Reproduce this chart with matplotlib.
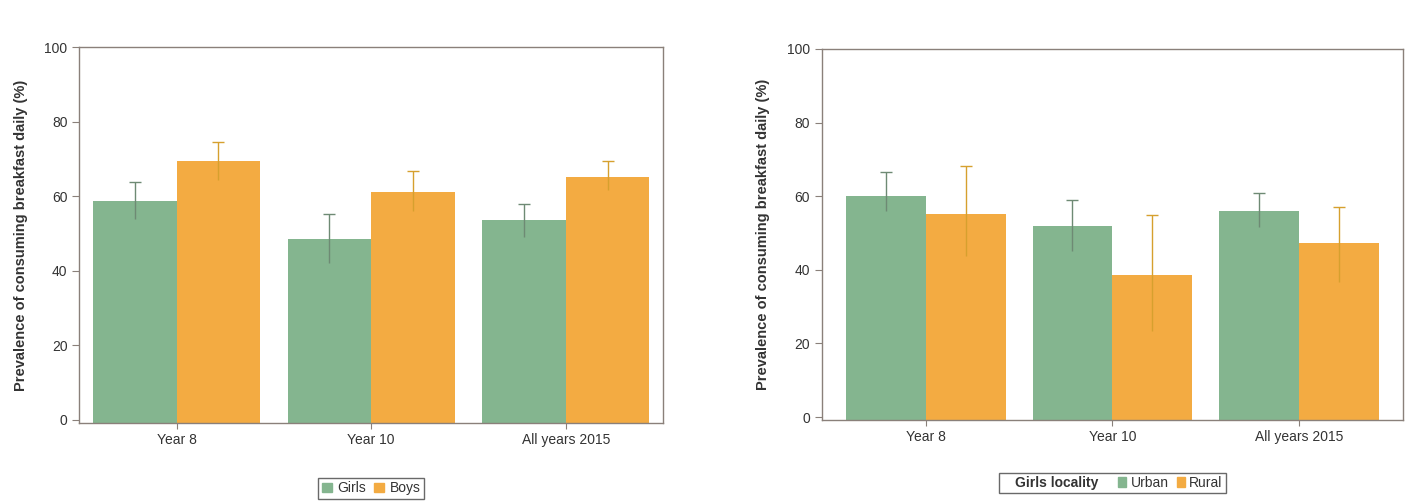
import numpy as np
import matplotlib.pyplot as plt
from matplotlib.patches import Patch

plt.rcParams['font.family'] = ['Liberation Sans', 'DejaVu Sans']

categories = ["Year 8", "Year 10", "All years 2015"]

# left panel: girls vs boys
girls = [58.7, 48.4, 53.6]
girls_lo = [53.8, 42.0, 49.0]
girls_hi = [63.8, 55.3, 58.0]
boys = [69.4, 61.1, 65.2]
boys_lo = [64.5, 56.0, 61.8]
boys_hi = [74.7, 66.9, 69.6]

# right panel: girls by locality
urban = [60.0, 51.9, 56.0]
urban_lo = [56.0, 45.1, 51.7]
urban_hi = [66.6, 58.9, 60.8]
rural = [55.3, 38.6, 47.2]
rural_lo = [43.8, 23.5, 36.7]
rural_hi = [68.1, 54.8, 57.2]

GREEN = "#84b58f"
ORANGE = "#f3ab42"
GREEN_ERR = "#6e8a74"
ORANGE_ERR = "#d6a02e"
SPINE = "#8a807a"
TXT = "#333333"
YLOW = -0.8  # axis floor sits a little below zero, bars drawn from it


def draw_panel(ax, s1, lo1, hi1, s2, lo2, hi2, width, xlim):
    x = np.arange(len(categories))
    ax.bar(x - width / 2, np.array(s1) - YLOW, width, bottom=YLOW, color=GREEN, zorder=2)
    ax.bar(x + width / 2, np.array(s2) - YLOW, width, bottom=YLOW, color=ORANGE, zorder=2)
    for off, vals, lo, hi, col in [(-width / 2, s1, lo1, hi1, GREEN_ERR),
                                   (width / 2, s2, lo2, hi2, ORANGE_ERR)]:
        vals = np.array(vals)
        ax.errorbar(x + off, vals, yerr=[vals - np.array(lo), np.array(hi) - vals],
                    fmt='none', ecolor=col, elinewidth=1.0, capsize=0, zorder=3)
        ax.plot(x + off, hi, linestyle='none', marker='_', ms=8, mew=1.0,
                color=col, zorder=3)
    ax.set_xlim(*xlim)
    ax.set_ylim(YLOW, 100)
    ax.set_yticks([0, 20, 40, 60, 80, 100])
    ax.set_xticks(x)
    ax.set_xticklabels(categories)
    ax.tick_params(axis='both', colors=SPINE, labelcolor=TXT, labelsize=10,
                   length=5, width=0.8)
    ax.tick_params(axis='x', length=4)
    for sp in ax.spines.values():
        sp.set_color(SPINE)
        sp.set_linewidth(1.0)
    ax.set_ylabel("Prevalence of consuming breakfast daily (%)", fontsize=10.5,
                  fontweight='bold', color=TXT, labelpad=12)


fig = plt.figure(figsize=(14.14, 5.03), dpi=100)
ax1 = fig.add_axes([0.0561, 0.1596, 0.4128, 0.7464])
ax2 = fig.add_axes([0.5813, 0.165, 0.4109, 0.7376])

draw_panel(ax1, girls, girls_lo, girls_hi, boys, boys_lo, boys_hi, 0.43, (-0.5, 2.5))
draw_panel(ax2, urban, urban_lo, urban_hi, rural, rural_lo, rural_hi, 0.428, (-0.555, 2.555))

leg1 = ax1.legend(handles=[Patch(color=GREEN, label="Girls"), Patch(color=ORANGE, label="Boys")],
                  loc='center', bbox_to_anchor=(0.5, -0.175), ncol=2, frameon=True,
                  fancybox=False, fontsize=10, handlelength=0.7, handleheight=0.7,
                  handletextpad=0.4, columnspacing=0.6, borderpad=0.25, borderaxespad=0)
leg1.get_frame().set_edgecolor("#444444")
leg1.get_frame().set_linewidth(1.0)

blank = Patch(color='none', label="Girls locality\u00a0\u00a0\u00a0")
leg2 = ax2.legend(handles=[blank, Patch(color=GREEN, label="Urban"), Patch(color=ORANGE, label="Rural")],
                  loc='center', bbox_to_anchor=(0.5, -0.17), ncol=3, frameon=True,
                  fancybox=False, fontsize=10, handlelength=0.6, handleheight=0.7,
                  handletextpad=0.3, columnspacing=0.6, borderpad=0.2, borderaxespad=0)
leg2.get_texts()[0].set_fontweight('bold')
leg2.get_frame().set_edgecolor("#444444")
leg2.get_frame().set_linewidth(1.0)
for t in leg1.get_texts() + leg2.get_texts():
    t.set_color(TXT)

fig.savefig("out.png", dpi=100, facecolor='white')
